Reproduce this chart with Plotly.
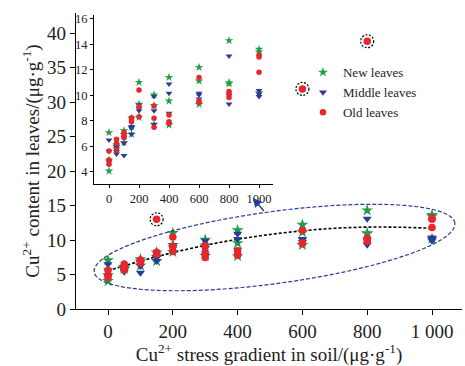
import numpy as np
import plotly.graph_objects as go

# ---------------- data ----------------
x_levels = [0, 50, 100, 150, 200, 300, 400, 600, 800, 1000]

new_leaves = [
    [7.07, 4.05, 4.90],
    [5.97, 6.10, 5.80],
    [7.22, 6.90, 6.30],
    [6.93, 8.20, 7.50],
    [11.02, 8.27, 9.30],
    [10.03, 7.70, 9.20],
    [11.41, 9.55, 7.67],
    [12.20, 11.13, 9.29],
    [14.30, 11.00, 10.90],
    [13.62, 13.40, 10.20],
]
middle_leaves = [
    [6.49, 5.60, 4.75],
    [5.57, 5.39, 5.95],
    [6.23, 5.26, 6.70],
    [7.54, 7.41, 6.95],
    [9.24, 8.98, 8.79],
    [9.90, 8.79, 7.72],
    [10.89, 10.16, 8.58],
    [10.16, 10.03, 9.71],
    [13.09, 9.32, 10.00],
    [10.37, 9.90, 10.10],
]
old_leaves = [
    [5.62, 4.92, 4.58],
    [6.54, 6.23, 5.70],
    [7.09, 6.88, 6.67],
    [8.24, 8.06, 7.93],
    [10.42, 9.11, 8.32],
    [9.16, 8.19, 7.48],
    [8.45, 7.93, 7.80],
    [11.39, 9.45, 9.55],
    [10.29, 9.82, 10.10],
    [13.17, 11.81, 13.00],
]
outlier_x = [150, 600, 800]
outlier_y = [13.0, 31.9, 38.8]

trend_x = [0, 100, 200, 300, 400, 500, 600, 700, 800, 900, 1000]
trend_y = [5.55, 6.95, 8.17, 9.23, 10.1, 10.8, 11.33, 11.7, 11.87, 11.85, 11.7]

main_xticks = [0, 200, 400, 600, 800, 1000]
main_xticktext = ["0", "200", "400", "600", "800", "1 000"]
main_yticks = [0, 5, 10, 15, 20, 25, 30, 35, 40]
inset_xticks = [0, 200, 400, 600, 800, 1000]
inset_yticks = [4, 6, 8, 10, 12, 14, 16]

# ---------------- styling ----------------
GREEN = "#1f9e48"
BLUE = "#2a3b98"
RED = "#e8262d"
FONT = "Liberation Serif"
TXT = "#222"

W, H = 465, 366
ML, MR, MT, MB = 76, 3, 13, 57
XR = [-98.8, 1092.6]
YR = [0, 42.9]
IX = [-100, 1093]
IY = [3.03, 16.31]


def flat(groups):
    xs, ys = [], []
    for xv, vals in zip(x_levels, groups):
        for v in vals:
            xs.append(xv)
            ys.append(v)
    return xs, ys


# drawing order: green bottom, then blue, red on top
series = [
    ("New leaves", new_leaves, GREEN, "star", 9, 6.5, 7.5, 1),
    ("Middle leaves", middle_leaves, BLUE, "triangle-down", 8, 6, 7, 2),
    ("Old leaves", old_leaves, RED, "circle", 7.5, 5.5, 6.5, 3),
]

fig = go.Figure()

# trend line (main)
fig.add_trace(go.Scatter(x=trend_x, y=trend_y, mode="lines", line_shape="spline",
                         line=dict(color="black", width=1.6, dash="3px,2px"),
                         showlegend=False, hoverinfo="skip", xaxis="x", yaxis="y"))

for name, groups, col, sym, size, isize, lsize, rank in series:
    xs, ys = flat(groups)
    if name == "Old leaves":
        xs = xs + outlier_x
        ys = ys + outlier_y
    fig.add_trace(go.Scatter(x=xs, y=ys, mode="markers", name=name,
                             marker=dict(symbol=sym, size=size, color=col, line=dict(width=0)),
                             showlegend=False, xaxis="x", yaxis="y"))
for name, groups, col, sym, size, isize, lsize, rank in series:
    xs, ys = flat(groups)
    fig.add_trace(go.Scatter(x=xs, y=ys, mode="markers", name=name,
                             marker=dict(symbol=sym, size=isize, color=col, line=dict(width=0)),
                             showlegend=False, xaxis="x2", yaxis="y2"))
# legend entries
for name, groups, col, sym, size, isize, lsize, rank in series:
    fig.add_trace(go.Scatter(x=[None], y=[None], mode="markers", name=name,
                             marker=dict(symbol=sym, size=lsize, color=col, line=dict(width=0)),
                             showlegend=True, legendrank=rank, xaxis="x", yaxis="y"))

shapes = []
# dashed circles around outliers
for ox, oy in zip(outlier_x, outlier_y):
    shapes.append(dict(type="circle", xref="x", yref="y", xsizemode="pixel", ysizemode="pixel",
                       xanchor=ox, yanchor=oy, x0=-6.5, x1=6.5, y0=-6.5, y1=6.5,
                       line=dict(color="black", width=1.2, dash="2px,1.5px")))

# dashed ellipse (geometry given in pixel units, converted to data units)
pw = W - ML - MR
ph = H - MT - MB
sx = pw / (XR[1] - XR[0])
sy = ph / (YR[1] - YR[0])
cx, cy = 514.0, 8.91
a_px, b_px = 182.0, 36.0
phi = np.arctan2(49, 361)  # rising to the right
t = np.linspace(0, 2 * np.pi, 121)
dx_px = a_px * np.cos(t) * np.cos(phi) - b_px * np.sin(t) * np.sin(phi)
dy_px = a_px * np.cos(t) * np.sin(phi) + b_px * np.sin(t) * np.cos(phi)
ex = cx + dx_px / sx
ey = cy + dy_px / sy
path = "M " + " L ".join(f"{u:.2f},{v:.3f}" for u, v in zip(ex, ey)) + " Z"
shapes.append(dict(type="path", xref="x", yref="y", path=path,
                   line=dict(color=BLUE, width=1.2, dash="4px,2px")))

annotations = [
    dict(x=447, y=16.1, ax=485, ay=14.0, xref="x", yref="y", axref="x", ayref="y",
         showarrow=True, arrowhead=2, arrowsize=1.2, arrowwidth=1.5, arrowcolor=BLUE, text=""),
]

fig.update_layout(
    width=W, height=H,
    margin=dict(l=ML, r=MR, t=MT, b=MB),
    paper_bgcolor="white", plot_bgcolor="white",
    font=dict(family=FONT, color=TXT),
    showlegend=True,
    legend=dict(x=0.588, y=0.85, xanchor="left", yanchor="top", bgcolor="rgba(0,0,0,0)",
                font=dict(family=FONT, size=13, color=TXT), itemsizing="trace",
                tracegroupgap=0),
    xaxis=dict(domain=[0, 1], range=XR, tickvals=main_xticks, ticktext=main_xticktext,
               showline=True, linecolor="black", linewidth=1.2, ticks="outside", ticklen=5,
               tickcolor="black", showgrid=False, zeroline=False,
               tickfont=dict(family=FONT, size=19, color=TXT),
               title=dict(text="Cu<sup>2+</sup> stress gradient in soil/(μg·g<sup>-1</sup>)",
                          font=dict(family=FONT, size=19, color=TXT), standoff=2),
               anchor="y"),
    yaxis=dict(domain=[0, 1], range=YR, tickvals=main_yticks,
               showline=True, linecolor="black", linewidth=1.2, ticks="outside", ticklen=5,
               tickcolor="black", showgrid=False, zeroline=False,
               tickfont=dict(family=FONT, size=19, color=TXT),
               title=dict(text="Cu<sup>2+</sup> content in leaves/(μg·g<sup>-1</sup>)",
                          font=dict(family=FONT, size=19, color=TXT), standoff=2),
               anchor="x"),
    xaxis2=dict(domain=[18 / 386, 197 / 386], range=IX, tickvals=inset_xticks,
                showline=True, linecolor="black", linewidth=1, ticks="outside", ticklen=3,
                tickcolor="black", showgrid=False, zeroline=False,
                tickfont=dict(family=FONT, size=12.5, color=TXT), anchor="y2"),
    yaxis2=dict(domain=[125 / 296, 294 / 296], range=IY, tickvals=inset_yticks,
                showline=True, linecolor="black", linewidth=1, ticks="outside", ticklen=3,
                tickcolor="black", showgrid=False, zeroline=False,
                tickfont=dict(family=FONT, size=12.5, color=TXT), anchor="x2"),
    shapes=shapes,
    annotations=annotations,
)

fig.write_html("out.html")
